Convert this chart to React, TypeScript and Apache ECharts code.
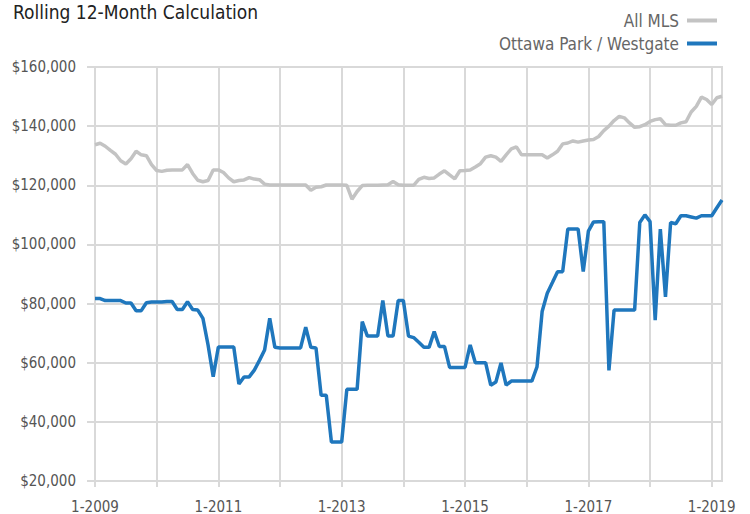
import React, { useEffect, useRef } from "react";
import * as echarts from "echarts";

const START_YEAR = 2009;
const MONTH_COUNT = 123; // Jan 2009 .. Mar 2019
const categories: string[] = [];
for (let i = 0; i < MONTH_COUNT; i++) {
  categories.push(`${(i % 12) + 1}-${START_YEAR + Math.floor(i / 12)}`);
}

const seriesNames = ["All MLS", "Ottawa Park / Westgate"];

// All MLS (thousands of $)
const allMls = [
  133.7, 134.2, 133.2, 131.8, 130.5, 128.3, 127.2, 129.0, 131.5, 130.3, 130.0, 127.0,
  125.0, 124.7, 125.1, 125.2, 125.2, 125.2, 127.0, 124.0, 121.7, 121.2, 121.6, 125.2,
  125.2, 124.3, 122.5, 121.2, 121.6, 121.8, 122.6, 122.1, 121.9, 120.4, 120.1, 120.1,
  120.1, 120.1, 120.1, 120.1, 120.1, 120.1, 118.3, 119.3, 119.5, 120.1, 120.1, 120.1,
  120.1, 120.0, 115.3, 117.9, 119.9, 120.0, 120.0, 120.0, 120.1, 120.2, 121.3, 120.2,
  120.0, 120.0, 120.0, 122.0, 122.7, 122.3, 122.5, 123.8, 124.9, 123.5, 122.2, 124.9,
  125.0, 125.2, 126.2, 127.3, 129.5, 130.0, 129.5, 128.1, 130.3, 132.3, 133.0, 130.3,
  130.3, 130.3, 130.3, 130.3, 129.2, 130.3, 131.5, 134.0, 134.3, 135.0, 134.6, 135.0,
  135.3, 135.5, 136.5, 138.5, 140.0, 141.9, 143.3, 142.8, 141.1, 139.6, 139.8, 140.5,
  141.6, 142.2, 142.5, 140.5, 140.3, 140.3, 141.1, 141.5, 144.8, 146.7, 149.8, 149.0,
  147.3, 149.6, 150.1,
];

// Ottawa Park / Westgate (thousands of $)
const ottawaPark = [
  81.7, 81.7, 81.0, 81.0, 81.0, 81.0, 80.2, 80.2, 77.6, 77.6, 80.3, 80.5,
  80.5, 80.5, 80.7, 80.7, 78.0, 78.0, 80.6, 78.0, 77.8, 75.0, 66.0, 55.3,
  65.3, 65.3, 65.3, 65.3, 52.8, 55.2, 55.2, 57.5, 60.8, 64.3, 75.0, 65.2,
  65.0, 65.0, 65.0, 65.0, 65.0, 72.0, 65.2, 65.0, 49.0, 49.0, 33.2, 33.2,
  33.2, 51.0, 51.0, 51.0, 73.9, 69.0, 69.0, 69.0, 81.0, 69.0, 69.0, 81.0,
  81.0, 69.0, 68.5, 66.9, 65.2, 65.2, 70.5, 65.5, 65.5, 58.4, 58.4, 58.4,
  58.4, 66.0, 60.0, 60.0, 60.0, 52.4, 53.5, 59.9, 52.4, 53.8, 53.8, 53.8,
  53.8, 53.8, 58.6, 77.3, 83.5, 87.1, 90.8, 90.8, 105.2, 105.2, 105.2, 90.8,
  104.5, 107.6, 107.7, 107.7, 57.4, 77.8, 77.8, 77.8, 77.8, 77.8, 107.4, 110.0,
  107.7, 74.4, 105.2, 82.3, 107.4, 107.0, 109.7, 109.7, 109.3, 108.9, 109.7, 109.7,
  109.7, 112.4, 115.0,
];

const FONT = "'Liberation Sans Narrow', 'Arial Narrow', 'DejaVu Sans Condensed', 'Liberation Sans', sans-serif";

export default function App() {
  const ref = useRef<HTMLDivElement>(null);
  useEffect(() => {
    if (!ref.current) return;
    const chart = echarts.init(ref.current, null, { renderer: "svg" });
    chart.setOption({
      animation: false,
      backgroundColor: "#ffffff",
      title: {
        text: "Rolling 12-Month Calculation",
        left: 8,
        top: -3,
        textStyle: { fontSize: 19, fontWeight: "normal", color: "#222", fontFamily: FONT },
      },
      legend: {
        data: seriesNames,
        orient: "vertical",
        right: 28,
        top: 7,
        align: "right",
        icon: "rect",
        itemWidth: 30,
        itemHeight: 4,
        itemGap: 6,
        textStyle: { fontSize: 17, color: "#666", fontFamily: FONT, padding: [0, 3, 0, 0] },
      },
      grid: {
        left: 95,
        right: 28,
        top: 67,
        bottom: 33,
        show: true,
        borderColor: "#d9d9d9",
        borderWidth: 2,
      },
      xAxis: {
        type: "category",
        data: categories,
        boundaryGap: false,
        axisLine: { show: true, lineStyle: { color: "#d9d9d9", width: 2 } },
        axisTick: {
          show: true,
          length: 6,
          interval: (i: number) => i % 12 === 0,
          lineStyle: { color: "#d9d9d9", width: 2 },
        },
        axisLabel: {
          interval: (i: number) => i % 24 === 0,
          color: "#555",
          fontSize: 15,
          fontFamily: FONT,
          margin: 18,
        },
        splitLine: {
          show: true,
          interval: (i: number) => i % 12 === 0,
          lineStyle: { color: "#d9d9d9", width: 2 },
        },
      },
      yAxis: {
        type: "value",
        min: 20000,
        max: 160000,
        interval: 20000,
        axisLine: { show: true, lineStyle: { color: "#d9d9d9", width: 2 } },
        axisTick: { show: true, length: 8, lineStyle: { color: "#d9d9d9", width: 2 } },
        axisLabel: {
          color: "#555",
          fontSize: 15,
          fontFamily: FONT,
          margin: 19,
          formatter: (v: number) => "$" + v.toLocaleString("en-US"),
        },
        splitLine: { show: true, lineStyle: { color: "#d9d9d9", width: 2 } },
      },
      series: [
        {
          name: seriesNames[0],
          type: "line",
          data: allMls.map((v) => v * 1000),
          showSymbol: false,
          symbol: "none",
          lineStyle: { color: "#c3c3c3", width: 3.5 },
          itemStyle: { color: "#c3c3c3" },
        },
        {
          name: seriesNames[1],
          type: "line",
          data: ottawaPark.map((v) => v * 1000),
          showSymbol: false,
          symbol: "none",
          lineStyle: { color: "#1f77bd", width: 3.5 },
          itemStyle: { color: "#1f77bd" },
        },
      ],
    });
    return () => chart.dispose();
  }, []);
  return (
    <div
      ref={ref}
      style={{ position: "fixed", left: 0, top: 0, width: 750, height: 514 }}
    />
  );
}
